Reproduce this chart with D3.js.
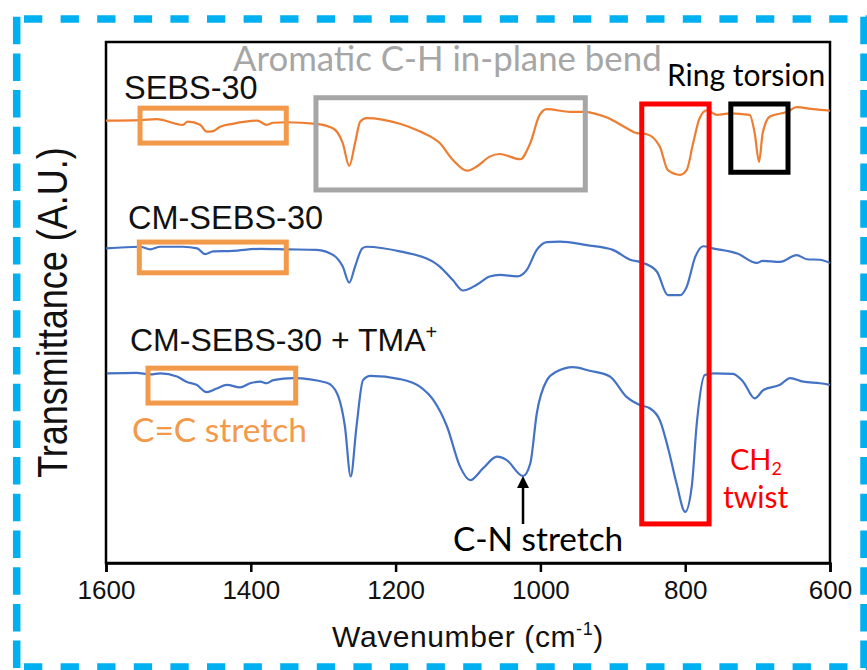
<!DOCTYPE html>
<html>
<head>
<meta charset="utf-8">
<script src="https://cdn.jsdelivr.net/npm/d3@7"></script>
<style>
  body { margin: 0; background: #fff; }
  svg { display: block; }
  .arial { font-family: "Liberation Sans", Arial, sans-serif; }
  .cal { font-family: Lato, "Open Sans", sans-serif; }
</style>
</head>
<body>
<div id="chart"></div>
<script>
// Wavenumber ticks
const tickValues = [1600, 1400, 1200, 1000, 800, 600];

// SEBS-30 (orange), offset transmittance in A.U.
const sebsWn = [1600, 1553, 1530, 1494, 1487, 1470, 1461, 1452, 1443, 1425, 1391, 1378, 1369, 1350, 1309, 1286, 1273, 1264, 1256, 1249, 1240, 1194, 1166, 1139, 1121, 1101, 1088, 1070, 1056, 1028, 1014, 1001, 991, 959, 941, 908, 880, 867, 853, 835, 824, 807, 798, 789, 780, 770, 756, 738, 711, 704, 698, 693, 683, 659, 646, 623, 600];
const sebsT  = [84.9, 85.0, 85.2, 84.1, 84.7, 84.1, 82.8, 82.9, 83.7, 84.3, 84.9, 84.1, 84.5, 84.6, 84.3, 83.4, 80.6, 76.2, 80.6, 84.7, 85.4, 84.3, 82.8, 80.6, 77.4, 75.3, 76.1, 78.0, 78.5, 77.5, 80.6, 86.0, 87.1, 86.6, 86.6, 85.5, 83.4, 82.5, 82.3, 79.9, 75.4, 74.5, 75.4, 80.6, 85.4, 86.9, 86.0, 86.3, 86.0, 82.5, 77.0, 82.5, 85.7, 86.6, 87.5, 87.1, 86.8];

// CM-SEBS-30 (blue)
const cmWn = [1600, 1553, 1539, 1525, 1494, 1474, 1463, 1452, 1425, 1387, 1350, 1309, 1286, 1273, 1264, 1256, 1246, 1240, 1194, 1148, 1139, 1121, 1107, 1088, 1070, 1056, 1032, 1019, 1005, 991, 973, 936, 900, 876, 858, 839, 824, 807, 798, 786, 775, 762, 728, 701, 693, 669, 646, 632, 614, 600];
const cmT  = [60.4, 60.7, 60.2, 60.7, 60.7, 60.4, 59.3, 59.8, 59.9, 60.3, 60.2, 60.1, 59.1, 56.9, 53.8, 56.9, 60.4, 60.7, 59.8, 57.8, 56.9, 54.3, 52.3, 53.4, 55.0, 55.3, 55.0, 56.2, 60.1, 61.6, 61.7, 61.0, 60.1, 58.2, 57.6, 55.9, 51.4, 51.4, 53.0, 58.8, 60.8, 60.4, 59.4, 57.6, 58.0, 57.8, 59.1, 58.3, 58.2, 57.6];

// CM-SEBS-30 + TMA+ (blue)
const tmaWn = [1599, 1558, 1539, 1525, 1502, 1489, 1475, 1461, 1447, 1433, 1415, 1401, 1387, 1378, 1369, 1341, 1295, 1281, 1270, 1262, 1254, 1245, 1235, 1194, 1166, 1148, 1129, 1111, 1097, 1079, 1060, 1047, 1024, 1014, 1005, 991, 978, 955, 932, 904, 881, 862, 849, 835, 823, 812, 800, 791, 784, 773, 761, 734, 720, 704, 692, 669, 655, 637, 614, 600];
const tmaT  = [36.4, 36.5, 36.2, 36.4, 35.8, 34.8, 34.2, 32.8, 33.5, 34.2, 33.7, 34.5, 34.8, 34.5, 35.1, 35.5, 34.6, 32.6, 26.2, 16.6, 26.2, 35.1, 35.9, 35.3, 33.8, 31.3, 26.2, 18.5, 15.9, 18.2, 20.4, 19.8, 16.7, 19.1, 28.7, 35.1, 36.7, 37.6, 36.9, 35.8, 31.9, 30.3, 29.7, 27.4, 21.7, 15.3, 9.8, 14.6, 26.8, 36.1, 36.4, 36.3, 34.8, 31.6, 33.2, 34.2, 35.5, 34.8, 34.5, 34.2];

// Annotation regions [wn start, wn end, top, bottom]
const boxSebsCC = [1553, 1351, 87.3, 80.6];
const boxAromatic = [1310, 938, 89.3, 71.6];
const boxCH2 = [860, 767, 88.1, 7.5];
const boxRing = [737, 658, 88.1, 75.0];
const boxCmCC = [1554, 1351, 61.6, 55.7];
const boxTmaCC = [1542, 1338, 37.4, 30.7];
const cnPeak = [1024, 16.7];

const W = 867, H = 670;
const margin = { top: 42, right: 37, bottom: 107, left: 106 };
const width = W - margin.left - margin.right,
      height = H - margin.top - margin.bottom;

const svg = d3.select("#chart").append("svg")
    .attr("width", W)
    .attr("height", H);

// Outer dashed frame (horizontal and vertical dashes differ)
const frame = svg.append("g").attr("stroke", "#00B0F0").attr("stroke-width", 7.5).attr("fill", "none");
frame.append("line").attr("x1", 24).attr("x2", 867).attr("y1", 19).attr("y2", 19).attr("stroke-dasharray", "18.3,18.3");
frame.append("line").attr("x1", 24).attr("x2", 867).attr("y1", 667).attr("y2", 667).attr("stroke-dasharray", "18.3,18.3");
frame.append("line").attr("x1", 16.7).attr("x2", 16.7).attr("y1", 16.7).attr("y2", 670).attr("stroke-dasharray", "27.5,9.2");
frame.append("line").attr("x1", 864).attr("x2", 864).attr("y1", 16.7).attr("y2", 670).attr("stroke-dasharray", "27.5,9.2");

const g = svg.append("g").attr("transform", `translate(${margin.left},${margin.top})`);

const x = d3.scaleLinear().domain([1600, 600]).range([0, width]);
const y = d3.scaleLinear().domain([0, 100]).range([height, 0]);

// Plot frame
g.append("rect")
    .attr("width", width).attr("height", height)
    .attr("fill", "none").attr("stroke", "#000").attr("stroke-width", 2.5);

// X axis
const xAxis = g.append("g")
    .attr("transform", `translate(0,${height})`)
    .call(d3.axisBottom(x).tickValues(tickValues).tickSize(9).tickPadding(9).tickFormat(d3.format("d")));
xAxis.select(".domain").attr("stroke-width", 2.5);
xAxis.selectAll(".tick line").attr("stroke-width", 2.5);
xAxis.selectAll(".tick text")
    .attr("class", "arial")
    .attr("font-size", 26)
    .attr("fill", "#111");

// Axis titles
const xt = svg.append("text").attr("class", "arial")
    .attr("x", 468).attr("y", 647)
    .attr("text-anchor", "middle")
    .attr("font-size", 30).attr("letter-spacing", 0.6).attr("fill", "#111");
xt.append("tspan").text("Wavenumber (cm");
xt.append("tspan").attr("font-size", 18).attr("dy", -12).text("-1");
xt.append("tspan").attr("dy", 12).text(")");

svg.append("text").attr("class", "arial")
    .attr("transform", "translate(66.7,312.5) rotate(-90) scale(1,1.2)")
    .attr("text-anchor", "middle")
    .attr("font-size", 36).attr("fill", "#111")
    .text("Transmittance (A.U.)");

// Spectra
const line = d3.line()
    .x(d => x(d[0]))
    .y(d => y(d[1]))
    .curve(d3.curveMonotoneX);

const spectra = [
    { wn: sebsWn, t: sebsT, color: "#ED7D31" },
    { wn: cmWn, t: cmT, color: "#4472C4" },
    { wn: tmaWn, t: tmaT, color: "#4472C4" }
];
spectra.forEach(s => {
    g.append("path")
        .datum(d3.zip(s.wn, s.t))
        .attr("d", line)
        .attr("fill", "none")
        .attr("stroke", s.color)
        .attr("stroke-width", 2.2);
});

// Annotation boxes
const boxes = [
    { b: boxSebsCC, color: "#F2994A" },
    { b: boxAromatic, color: "#A6A6A6" },
    { b: boxCH2, color: "#FF0000" },
    { b: boxRing, color: "#000000" },
    { b: boxCmCC, color: "#F2994A" },
    { b: boxTmaCC, color: "#F2994A" }
];
boxes.forEach(({ b, color }) => {
    g.append("rect")
        .attr("x", x(b[0]))
        .attr("y", y(b[2]))
        .attr("width", x(b[1]) - x(b[0]))
        .attr("height", y(b[3]) - y(b[2]))
        .attr("fill", "none")
        .attr("stroke", color)
        .attr("stroke-width", 5);
});

// Series labels
svg.append("text").attr("class", "arial").attr("x", 124).attr("y", 99.3)
    .attr("font-size", 32.5).attr("fill", "#111").text("SEBS-30");
svg.append("text").attr("class", "arial").attr("x", 128).attr("y", 229.3)
    .attr("font-size", 32.5).attr("fill", "#111").text("CM-SEBS-30");
const tl = svg.append("text").attr("class", "arial").attr("x", 130).attr("y", 350.7)
    .attr("font-size", 32).attr("fill", "#111");
tl.append("tspan").text("CM-SEBS-30 + TMA");
tl.append("tspan").attr("font-size", 20).attr("dy", -12).text("+");

// Band labels
svg.append("text").attr("class", "cal").attr("x", 233).attr("y", 70.7)
    .attr("font-size", 34.8).attr("fill", "#A6A6A6").text("Aromatic C-H in-plane bend");
svg.append("text").attr("class", "cal").attr("x", 667).attr("y", 86)
    .attr("font-size", 30).attr("fill", "#000").text("Ring torsion");
svg.append("text").attr("class", "cal").attr("x", 132).attr("y", 441.7)
    .attr("font-size", 33.5).attr("fill", "#F2994A").text("C=C stretch");
svg.append("text").attr("class", "cal").attr("x", 453).attr("y", 550.7)
    .attr("font-size", 33.3).attr("fill", "#000").text("C-N stretch");
const ch = svg.append("text").attr("class", "cal").attr("x", 730).attr("y", 470)
    .attr("font-size", 29).attr("fill", "#FF0000");
ch.append("tspan").text("CH");
ch.append("tspan").attr("font-size", 18).attr("dy", 5).text("2");
svg.append("text").attr("class", "cal").attr("x", 723).attr("y", 508.3)
    .attr("font-size", 30).attr("fill", "#FF0000").text("twist");

// Arrow to the C-N band
const ax = x(cnPeak[0]), ay = y(cnPeak[1]);
g.append("line")
    .attr("x1", ax).attr("x2", ax)
    .attr("y1", ay + 10).attr("y2", ay + 48)
    .attr("stroke", "#000").attr("stroke-width", 2.5);
g.append("path")
    .attr("d", `M${ax},${ay} L${ax - 6},${ay + 12} L${ax + 6},${ay + 12} Z`)
    .attr("fill", "#000");
</script>
</body>
</html>
